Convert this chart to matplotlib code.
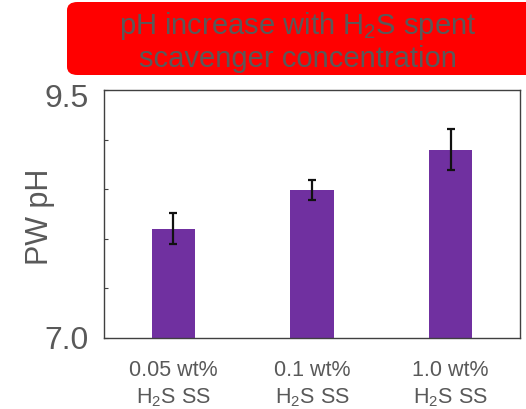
import matplotlib
matplotlib.use("Agg")
import matplotlib.pyplot as plt
from matplotlib.patches import FancyBboxPatch
from matplotlib.transforms import ScaledTranslation

categories = ["0.05 wt%\nH$_2$S SS", "0.1 wt%\nH$_2$S SS", "1.0 wt%\nH$_2$S SS"]
ph_values = [8.10, 8.49, 8.90]
ph_errors = [0.155, 0.10, 0.21]
y_ticks = [7.0, 7.5, 8.0, 8.5, 9.0, 9.5]
y_tick_labels = ["7.0", "", "", "", "", "9.5"]
title_text = "pH increase with H$_2$S spent\nscavenger concentration"

plt.rcParams['font.family'] = ['Liberation Sans', 'DejaVu Sans']
plt.rcParams['mathtext.fontset'] = 'custom'
plt.rcParams['mathtext.rm'] = 'Liberation Sans'
plt.rcParams['mathtext.it'] = 'Liberation Sans:italic'
plt.rcParams['mathtext.bf'] = 'Liberation Sans:bold'

grey = '#595959'
fig = plt.figure(figsize=(5.26, 4.09), dpi=100)
ax = fig.add_axes([0.1977, 0.1736, 0.7909, 0.6064])

x = list(range(len(categories)))
ax.bar(x, ph_values, width=0.313, color='#7030a0', zorder=2)
ax.errorbar(x, ph_values, yerr=ph_errors, fmt='none', ecolor='#111111',
            elinewidth=1.6, capsize=3, capthick=1.6, zorder=3)

ax.set_xlim(-0.5, 2.5)
ax.set_ylim(7.0, 9.5)
ax.set_yticks(y_ticks)
ax.set_yticklabels(y_tick_labels, fontsize=23, color=grey)
ax.set_xticks(x)
ax.set_xticklabels(categories, fontsize=15.5, color=grey, linespacing=1.3)
ax.tick_params(axis='x', length=0, pad=16)
ax.tick_params(axis='y', direction='in', length=3, width=0.8, color='#404040', pad=11)
# top label sits slightly below its tick in the reference
top_lbl = ax.get_yticklabels()[-1]
top_lbl.set_transform(top_lbl.get_transform() + ScaledTranslation(0, -6 / 100, fig.dpi_scale_trans))
ax.set_ylabel("PW pH", fontsize=22, color=grey)
ax.yaxis.set_label_coords(-0.118, 0.49)
for s in ax.spines.values():
    s.set_color('#404040')
    s.set_linewidth(1.0)

box = FancyBboxPatch((67 / 526, (409 - 75) / 409), 1.05 - 67 / 526, 73 / 409,
                     boxstyle="round,pad=0,rounding_size=0.02",
                     transform=fig.transFigure, facecolor='#ff0000',
                     edgecolor='none', zorder=0)
fig.patches.append(box)
fig.text(298 / 526, 0.899, title_text, ha='center', va='center',
         fontsize=21, color=grey, linespacing=1.12)

fig.savefig("out.png", dpi=100)
